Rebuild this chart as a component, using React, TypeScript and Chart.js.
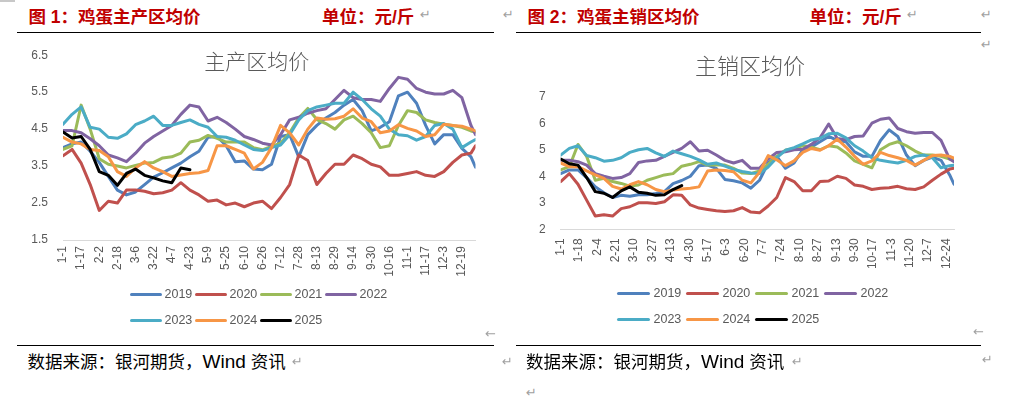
import React, { useEffect, useRef } from "react";
import { Chart, registerables } from "chart.js";

Chart.register(...registerables);

// ---------- series meta ----------
const seriesNames = ["2019", "2020", "2021", "2022", "2023", "2024", "2025"];
const seriesColors = ["#4F81BD", "#C0504D", "#9BBB59", "#8064A2", "#4BACC6", "#F79646", "#000000"];

// day-of-year (0 = 1-1) at which values were read
const sampleDays = [0, 8, 16, 24, 32, 40, 48, 56, 64, 72, 80, 88, 96, 104, 112, 120, 128, 136, 144, 152, 160, 168, 176, 184, 192, 200, 208, 216, 224, 232, 240, 248, 256, 264, 272, 280, 288, 296, 304, 312, 320, 328, 336, 344, 352, 360, 364];
const sampleDays2025 = [0, 8, 16, 24, 32, 40, 48, 56, 64, 72, 80, 88, 96, 104, 112];

// ---------- chart 1: 主产区均价 ----------
const prod2019 = [4.0, 4.1, 4.15, 3.9, 3.6, 3.22, 2.85, 2.72, 2.8, 3.0, 3.2, 3.32, 3.45, 3.58, 3.75, 3.9, 4.28, 4.3, 4.05, 3.62, 3.64, 3.42, 3.4, 3.55, 4.3, 4.35, 3.75, 4.35, 4.6, 4.8, 4.95, 5.15, 5.3, 5.0, 4.45, 4.55, 4.7, 5.4, 5.5, 5.2, 4.6, 4.1, 4.35, 4.35, 3.98, 3.75, 3.47];
const prod2020 = [3.78, 3.95, 3.58, 3.0, 2.3, 2.55, 2.5, 2.85, 2.85, 2.82, 2.75, 2.78, 2.85, 3.05, 2.85, 2.72, 2.55, 2.58, 2.45, 2.5, 2.4, 2.5, 2.55, 2.35, 2.65, 3.0, 3.8, 3.65, 3.0, 3.3, 3.55, 3.55, 3.8, 3.7, 3.55, 3.48, 3.25, 3.25, 3.3, 3.35, 3.25, 3.22, 3.35, 3.6, 3.8, 3.85, 4.05];
const prod2021 = [3.95, 4.05, 5.15, 4.5, 3.7, 3.55, 3.5, 3.45, 3.52, 3.58, 3.6, 3.72, 3.75, 3.85, 4.15, 4.2, 4.33, 4.25, 4.15, 4.15, 4.15, 4.0, 3.94, 4.03, 4.12, 4.4, 4.8, 5.06, 4.76, 4.65, 4.5, 4.75, 4.85, 4.65, 4.4, 4.0, 4.05, 4.6, 5.0, 4.95, 4.75, 4.68, 4.63, 4.6, 4.55, 4.45, 4.42];
const prod2022 = [4.46, 4.46, 4.4, 4.24, 4.05, 3.8, 3.72, 3.62, 3.85, 4.12, 4.3, 4.45, 4.6, 4.9, 5.15, 5.1, 4.72, 4.82, 4.68, 4.5, 4.3, 4.22, 4.12, 4.07, 4.35, 4.75, 4.82, 4.93, 5.0, 5.05, 5.3, 5.55, 5.35, 5.3, 5.3, 5.25, 5.6, 5.9, 5.85, 5.6, 5.5, 5.45, 5.45, 5.55, 5.35, 4.6, 4.35];
const prod2023 = [4.63, 4.9, 5.1, 4.55, 4.5, 4.28, 4.25, 4.37, 4.62, 4.72, 4.85, 4.6, 4.6, 4.68, 4.75, 4.63, 4.55, 4.3, 4.28, 4.2, 4.07, 3.95, 3.92, 4.0, 4.07, 4.35, 4.75, 5.0, 5.1, 5.15, 5.2, 5.2, 5.5, 5.3, 5.05, 4.85, 4.5, 4.35, 4.32, 4.2, 4.3, 4.6, 4.65, 4.5, 4.0, 4.15, 4.22];
const prod2024 = [4.28, 4.15, 4.1, 3.95, 3.92, 3.75, 3.35, 3.22, 3.45, 3.62, 3.45, 3.35, 3.22, 3.26, 3.3, 3.32, 3.38, 4.05, 4.05, 3.95, 3.85, 3.42, 3.6, 4.0, 4.6, 4.4, 4.07, 4.5, 4.8, 4.77, 4.78, 4.85, 5.05, 4.8, 4.7, 4.4, 4.45, 4.62, 4.52, 4.45, 4.3, 4.35, 4.63, 4.6, 4.58, 4.5, 4.45];
const prod2025 = [4.42, 4.26, 4.3, 3.95, 3.35, 3.25, 2.98, 3.3, 3.42, 3.25, 3.18, 3.1, 3.05, 3.45, 3.4];

const prodTickDays = [0, 16, 32, 48, 64, 80, 96, 112, 128, 144, 160, 176, 192, 208, 224, 240, 256, 272, 288, 304, 320, 336, 352];
const prodTickLabels = ["1-1", "1-17", "2-2", "2-18", "3-6", "3-22", "4-7", "4-23", "5-9", "5-25", "6-10", "6-26", "7-12", "7-28", "8-13", "8-29", "9-14", "9-30", "10-16", "11-1", "11-17", "12-3", "12-19"];
const prodYTicks = [1.5, 2.5, 3.5, 4.5, 5.5, 6.5];

// ---------- chart 2: 主销区均价 ----------
const sale2019 = [4.1, 4.24, 4.24, 3.95, 3.6, 3.38, 3.2, 3.28, 3.25, 3.3, 3.3, 3.35, 3.42, 3.72, 3.84, 4.0, 4.4, 4.42, 4.3, 3.88, 3.83, 3.75, 3.55, 3.85, 4.5, 4.75, 4.3, 4.5, 5.0, 5.1, 5.3, 5.5, 5.35, 5.3, 4.92, 4.75, 4.75, 5.35, 5.75, 5.5, 4.8, 4.4, 4.6, 4.72, 4.6, 4.05, 3.7];
const sale2020 = [3.8, 4.1, 3.7, 3.1, 2.5, 2.55, 2.5, 2.78, 2.85, 3.0, 3.0, 2.97, 3.04, 3.3, 3.28, 2.92, 2.8, 2.75, 2.7, 2.67, 2.7, 2.82, 2.65, 2.62, 2.88, 3.2, 3.95, 3.8, 3.45, 3.45, 3.8, 3.82, 4.0, 3.92, 3.67, 3.62, 3.5, 3.55, 3.57, 3.62, 3.53, 3.5, 3.6, 3.85, 4.08, 4.27, 4.3];
const sale2021 = [4.24, 4.36, 5.2, 4.75, 3.85, 3.92, 3.8, 3.73, 3.63, 3.67, 3.85, 3.95, 4.05, 4.1, 4.38, 4.45, 4.55, 4.42, 4.42, 4.42, 4.3, 4.12, 4.1, 4.2, 4.45, 4.75, 4.98, 5.05, 5.15, 5.1, 5.0, 5.15, 5.1, 4.88, 4.58, 4.45, 4.32, 5.0, 5.2, 5.3, 5.15, 4.95, 4.8, 4.8, 4.75, 4.65, 4.6];
const sale2022 = [4.6, 4.6, 4.55, 4.42, 4.1, 4.0, 3.92, 3.95, 4.1, 4.52, 4.58, 4.6, 4.75, 4.9, 5.05, 5.3, 4.95, 4.98, 4.8, 4.6, 4.5, 4.6, 4.3, 4.3, 4.65, 4.9, 4.92, 5.0, 5.02, 5.2, 5.45, 5.97, 5.42, 5.38, 5.5, 5.52, 6.0, 6.15, 6.2, 5.8, 5.68, 5.62, 5.65, 5.65, 5.35, 4.65, 4.55];
const sale2023 = [4.8, 5.05, 5.15, 4.78, 4.7, 4.57, 4.6, 4.7, 4.9, 5.0, 5.05, 4.88, 4.75, 4.95, 4.85, 4.75, 4.62, 4.45, 4.5, 4.38, 4.26, 4.18, 4.12, 4.1, 4.35, 4.7, 4.98, 5.08, 5.22, 5.37, 5.43, 5.6, 5.62, 5.45, 5.15, 4.95, 4.7, 4.6, 4.55, 4.5, 4.6, 4.75, 4.8, 4.7, 4.32, 4.4, 4.42];
const sale2024 = [4.5, 4.36, 4.36, 4.2, 4.05, 3.92, 3.62, 3.52, 3.68, 3.8, 3.68, 3.5, 3.42, 3.48, 3.52, 3.55, 3.6, 4.2, 4.24, 4.22, 4.17, 3.85, 3.75, 4.15, 4.78, 4.62, 4.4, 4.58, 4.9, 5.05, 4.98, 5.15, 5.4, 5.1, 4.75, 4.45, 4.58, 4.9, 4.78, 4.7, 4.6, 4.42, 4.6, 4.78, 4.8, 4.75, 4.68];
const sale2025 = [4.65, 4.47, 4.42, 3.95, 3.42, 3.36, 3.2, 3.45, 3.6, 3.4, 3.36, 3.28, 3.3, 3.5, 3.65];

const saleTickDays = [0, 17, 34, 51, 68, 85, 102, 119, 136, 153, 170, 187, 204, 221, 238, 255, 272, 289, 306, 323, 340, 357];
const saleTickLabels = ["1-1", "1-18", "2-4", "2-21", "3-10", "3-27", "4-13", "4-30", "5-17", "6-3", "6-20", "7-7", "7-24", "8-10", "8-27", "9-13", "9-30", "10-17", "11-3", "11-20", "12-7", "12-24"];
const saleYTicks = [2, 3, 4, 5, 6, 7];

const prodSeries = [prod2019, prod2020, prod2021, prod2022, prod2023, prod2024, prod2025];
const saleSeries = [sale2019, sale2020, sale2021, sale2022, sale2023, sale2024, sale2025];

const TICK_COLOR = "#595959";
const TICK_FONT = { family: "'Liberation Sans', Arial, sans-serif", size: 12 };
const CJK = "'Liberation Sans', 'Noto Sans CJK SC', 'Noto Sans', sans-serif";
const CJK_ONLY = "'Noto Sans CJK SC', sans-serif";

type ChartProps = {
  left: number; top: number; width: number; height: number;
  yWidth: number; xHeight: number; padTop: number; padRight: number;
  xPad: number; yPad: number;
  tickDays: number[]; tickLabels: string[]; yTicks: number[]; yDecimals: number;
  series: number[][];
};

function YearChart(p: ChartProps) {
  const ref = useRef<HTMLCanvasElement>(null);
  useEffect(() => {
    const canvas = ref.current;
    if (!canvas) return;
    const datasets = p.series.map((vals, i) => {
      const days = i === 6 ? sampleDays2025 : sampleDays;
      return {
        label: seriesNames[i],
        data: vals.map((v, j) => ({ x: days[j], y: v })),
        borderColor: seriesColors[i],
        backgroundColor: seriesColors[i],
        borderWidth: 3,
        pointRadius: 0,
        tension: 0,
        fill: false,
        borderJoinStyle: "round" as const,
        borderCapStyle: "round" as const,
        order: 10 - i,
      };
    });
    const chart = new Chart(canvas, {
      type: "line",
      data: { datasets },
      options: {
        responsive: false,
        animation: false,
        devicePixelRatio: 1,
        events: [],
        layout: { padding: { top: p.padTop, right: p.padRight, left: 0, bottom: 0 } },
        plugins: { legend: { display: false }, title: { display: false }, tooltip: { enabled: false } },
        scales: {
          x: {
            type: "linear",
            min: 0,
            max: 364,
            afterBuildTicks: (ax: any) => { ax.ticks = p.tickDays.map((v) => ({ value: v })); },
            afterFit: (ax: any) => { ax.height = p.xHeight; },
            grid: { display: false, drawTicks: false },
            border: { display: true, color: "#D9D9D9", width: 1 },
            ticks: {
              autoSkip: false,
              minRotation: 90,
              maxRotation: 90,
              padding: p.xPad,
              color: TICK_COLOR,
              font: TICK_FONT,
              callback: (v: any) => {
                const k = p.tickDays.indexOf(Number(v));
                return k >= 0 ? p.tickLabels[k] : "";
              },
            },
          },
          y: {
            type: "linear",
            min: p.yTicks[0],
            max: p.yTicks[p.yTicks.length - 1],
            afterBuildTicks: (ax: any) => { ax.ticks = p.yTicks.map((v) => ({ value: v })); },
            afterFit: (ax: any) => { ax.width = p.yWidth; },
            grid: { display: false, drawTicks: false },
            border: { display: false },
            ticks: {
              padding: p.yPad,
              color: TICK_COLOR,
              font: TICK_FONT,
              callback: (v: any) => Number(v).toFixed(p.yDecimals),
            },
          },
        },
      },
    });
    return () => chart.destroy();
  }, []);
  return (
    <canvas
      ref={ref}
      width={p.width}
      height={p.height}
      style={{ position: "absolute", left: p.left, top: p.top, width: p.width, height: p.height }}
    />
  );
}

function Legend({ x0, y0, rowGap, pitch, lineW, textGap }: { x0: number; y0: number; rowGap: number; pitch: number; lineW: number; textGap: number }) {
  return (
    <>
      {seriesNames.map((name, i) => {
        const row = i < 4 ? 0 : 1;
        const col = i < 4 ? i : i - 4;
        const x = x0 + col * pitch;
        const y = y0 + row * rowGap;
        return (
          <React.Fragment key={name}>
            <div style={{ position: "absolute", left: x, top: y - 1.5, width: lineW, height: 3, borderRadius: 1.5, background: seriesColors[i] }} />
            <div style={{ position: "absolute", left: x + lineW + textGap, top: y - 7, lineHeight: "14px", fontSize: 12.5, color: TICK_COLOR, fontFamily: "'Liberation Sans', Arial, sans-serif", whiteSpace: "nowrap" }}>{name}</div>
          </React.Fragment>
        );
      })}
    </>
  );
}

function Txt({ x, y, size, color, bold, children, center, weight, family }: { x: number; y: number; size: number; color: string; bold?: boolean; children: any; center?: boolean; weight?: number; family?: string }) {
  return (
    <div
      style={{
        position: "absolute",
        left: center ? x - 200 : x,
        width: center ? 400 : undefined,
        textAlign: center ? "center" : "left",
        top: y,
        fontSize: size,
        lineHeight: `${size}px`,
        color,
        fontWeight: weight ?? (bold ? 700 : 400),
        fontFamily: family ?? CJK,
        whiteSpace: "nowrap",
      }}
    >
      {children}
    </div>
  );
}

function Mark({ x, y, ch }: { x: number; y: number; ch?: string }) {
  return (
    <div style={{ position: "absolute", left: x, top: y - 8, fontSize: 13, lineHeight: "16px", color: "#A0A0A0", fontFamily: "'DejaVu Sans', sans-serif" }}>{ch ?? "↵"}</div>
  );
}

function HLine({ x, y, w }: { x: number; y: number; w: number }) {
  return <div style={{ position: "absolute", left: x, top: y, width: w, height: 1.3, background: "#000" }} />;
}

function Footer({ x }: { x: number }) {
  return (
    <Txt x={x} y={353.3} size={17.5} color="#000">
      数据来源：银河期货，<span style={{ fontSize: 19 }}>Wind</span> 资讯
    </Txt>
  );
}

export default function App() {
  return (
    <div style={{ position: "absolute", left: 0, top: 0, width: 1027, height: 396, background: "#fff", overflow: "hidden" }}>
      <div style={{ position: "absolute", left: 0, top: 0, width: 15, height: 1.5, background: "#C8C8C8" }} />

      {/* headers */}
      <Txt x={28.5} y={8.8} size={17.5} color="#C00000" bold>图 1：鸡蛋主产区均价</Txt>
      <Txt x={322} y={8.8} size={17.5} color="#C00000" bold>单位：元/斤</Txt>
      <Txt x={527.5} y={8.8} size={17.5} color="#C00000" bold>图 2：鸡蛋主销区均价</Txt>
      <Txt x={809.5} y={8.8} size={17.5} color="#C00000" bold>单位：元/斤</Txt>
      <Mark x={420} y={15} />
      <Mark x={503} y={15} />
      <Mark x={907} y={15} />
      <Mark x={981} y={15} />
      <Mark x={981} y={45} />

      <HLine x={17} y={31.7} w={477} />
      <HLine x={516} y={31.7} w={465} />

      {/* charts */}
      <YearChart
        left={17} top={33} width={477} height={257}
        yWidth={46} xHeight={50} padTop={12.7} padRight={18.5}
        xPad={6} yPad={15}
        tickDays={prodTickDays} tickLabels={prodTickLabels} yTicks={prodYTicks} yDecimals={1}
        series={prodSeries}
      />
      <YearChart
        left={517} top={33} width={470} height={246}
        yWidth={43.7} xHeight={49.7} padTop={63.7} padRight={33}
        xPad={9} yPad={15}
        tickDays={saleTickDays} tickLabels={saleTickLabels} yTicks={saleYTicks} yDecimals={0}
        series={saleSeries}
      />

      {/* in-chart titles */}
      <Txt x={256.7} y={49.5} size={21} color="#595959" weight={300} center family={CJK_ONLY}>主产区均价</Txt>
      <Txt x={750} y={52.5} size={22} color="#595959" weight={300} center family={CJK_ONLY}>主销区均价</Txt>

      {/* legends */}
      <Legend x0={130} y0={294} rowGap={26} pitch={65} lineW={32} textGap={2.5} />
      <Legend x0={617} y0={293.3} rowGap={25.7} pitch={69} lineW={33} textGap={3.5} />

      <Mark x={485} y={334} ch="←" />
      <Mark x={973} y={332} ch="←" />

      <HLine x={17} y={344.7} w={477} />
      <HLine x={516} y={344.7} w={465} />

      {/* footers */}
      <Footer x={27.5} />
      <Footer x={526} />
      <Mark x={292} y={362} />
      <Mark x={502} y={362} />
      <Mark x={792} y={362} />
      <Mark x={982} y={360} />
      <Mark x={526} y={393} />
    </div>
  );
}
